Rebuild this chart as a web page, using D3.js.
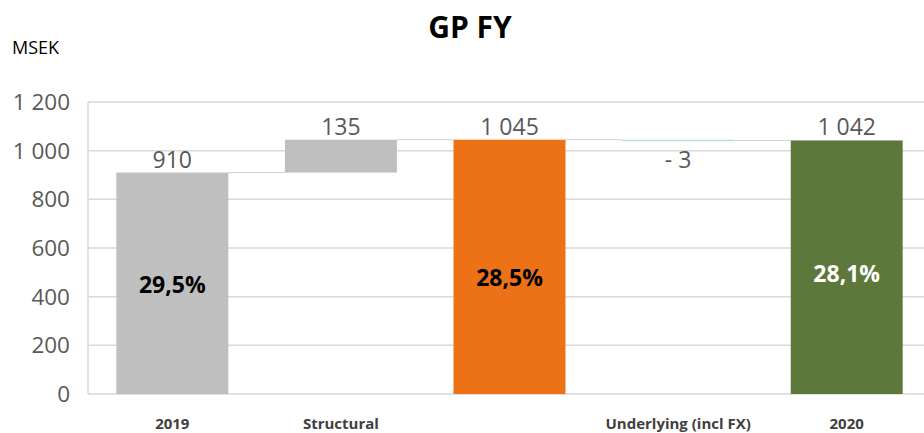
<!DOCTYPE html>
<html>
<head>
<meta charset="utf-8">
<script src="https://cdn.jsdelivr.net/npm/d3@7"></script>
<style>
  body { margin: 0; background: #fff; }
  svg { display: block; font-family: "Open Sans", "Noto Sans", sans-serif; }
</style>
</head>
<body>
<svg id="chart" width="924" height="433"></svg>
<script>
// waterfall data
const categories = ["2019", "Structural", "", "Underlying (incl FX)", "2020"];
const values = [910, 135, 1045, -3, 1042];
const kinds = ["total", "delta", "total", "delta", "total"];
const valueLabels = ["910", "135", "1 045", "- 3", "1 042"];
const pctLabels = ["29,5%", "", "28,5%", "", "28,1%"];
const yTicks = [0, 200, 400, 600, 800, 1000, 1200];

const colors = ["#bfbfbf", "#bfbfbf", "#ed7117", "#aee0e0", "#5e773a"];
const pctColors = ["#000", "#000", "#000", "#000", "#fff"];
const pctAt = [450, 0, 475, 0, 495]; // where the % label sits (in MSEK)

const svg = d3.select("#chart");
const plotL = 88, plotR = 931, plotT = 102, plotB = 394;

const x = d3.scaleBand()
  .domain(d3.range(categories.length))
  .range([plotL, plotR])
  .paddingInner(0.336)
  .paddingOuter(0.168);

const y = d3.scaleLinear().domain([0, 1200]).range([plotB, plotT]);

// running totals
let run = 0;
const bars = values.map((v, i) => {
  let lo, hi;
  if (kinds[i] === "total") { lo = 0; hi = v; run = v; }
  else { const s = run; run = s + v; lo = Math.min(s, run); hi = Math.max(s, run); }
  return { i, v, lo, hi, end: run };
});

// grid
svg.append("g")
  .selectAll("line")
  .data(yTicks)
  .join("line")
  .attr("x1", plotL).attr("x2", 924)
  .attr("y1", d => y(d)).attr("y2", d => y(d))
  .attr("stroke", "#d9d9d9")
  .attr("stroke-width", 1.5);

svg.append("line")
  .attr("x1", plotL).attr("x2", plotL)
  .attr("y1", y(1200)).attr("y2", y(0))
  .attr("stroke", "#d9d9d9")
  .attr("stroke-width", 1.5);

// y axis labels
svg.append("g")
  .selectAll("text")
  .data(yTicks)
  .join("text")
  .attr("x", 70)
  .attr("y", d => y(d))
  .attr("dy", "0.35em")
  .attr("text-anchor", "end")
  .attr("font-size", 22.5)
  .attr("fill", "#595959")
  .text(d => d3.format(",")(d).replace(/,/g, " "));

// connectors
svg.append("g")
  .selectAll("line")
  .data(bars.slice(0, -1))
  .join("line")
  .attr("x1", d => x(d.i) + x.bandwidth())
  .attr("x2", d => x(d.i + 1))
  .attr("y1", d => y(d.end)).attr("y2", d => y(d.end))
  .attr("stroke", "#d0d0d0")
  .attr("stroke-width", 1);

// bars
svg.append("g")
  .selectAll("rect")
  .data(bars)
  .join("rect")
  .attr("x", d => x(d.i))
  .attr("width", x.bandwidth())
  .attr("y", d => y(d.hi))
  .attr("height", d => Math.max(1.5, y(d.lo) - y(d.hi)))
  .attr("fill", d => colors[d.i]);

// value labels
svg.append("g")
  .selectAll("text")
  .data(bars)
  .join("text")
  .attr("x", d => x(d.i) + x.bandwidth() / 2)
  .attr("y", d => d.v < 0 ? y(d.lo) + 28 : y(d.hi) - 5)
  .attr("text-anchor", "middle")
  .attr("font-size", 23)
  .attr("fill", "#595959")
  .text(d => valueLabels[d.i]);

// percentage labels
svg.append("g")
  .selectAll("text")
  .data(bars.filter(d => pctLabels[d.i]))
  .join("text")
  .attr("x", d => x(d.i) + x.bandwidth() / 2)
  .attr("y", d => y(pctAt[d.i]))
  .attr("dy", "0.35em")
  .attr("text-anchor", "middle")
  .attr("font-size", 23)
  .attr("font-weight", "bold")
  .attr("fill", d => pctColors[d.i])
  .text(d => pctLabels[d.i]);

// category labels
svg.append("g")
  .selectAll("text")
  .data(categories)
  .join("text")
  .attr("x", (d, i) => x(i) + x.bandwidth() / 2)
  .attr("y", 424)
  .attr("dy", "0.35em")
  .attr("text-anchor", "middle")
  .attr("font-size", 15)
  .attr("font-weight", "bold")
  .attr("fill", "#404040")
  .text(d => d);

// title + unit
svg.append("text")
  .attr("x", 470).attr("y", 27).attr("dy", "0.35em")
  .attr("text-anchor", "middle")
  .attr("font-size", 30).attr("font-weight", "bold")
  .attr("fill", "#000")
  .text("GP FY");

svg.append("text")
  .attr("x", 12).attr("y", 48).attr("dy", "0.35em")
  .attr("font-size", 18)
  .attr("fill", "#000")
  .text("MSEK");
</script>
</body>
</html>
